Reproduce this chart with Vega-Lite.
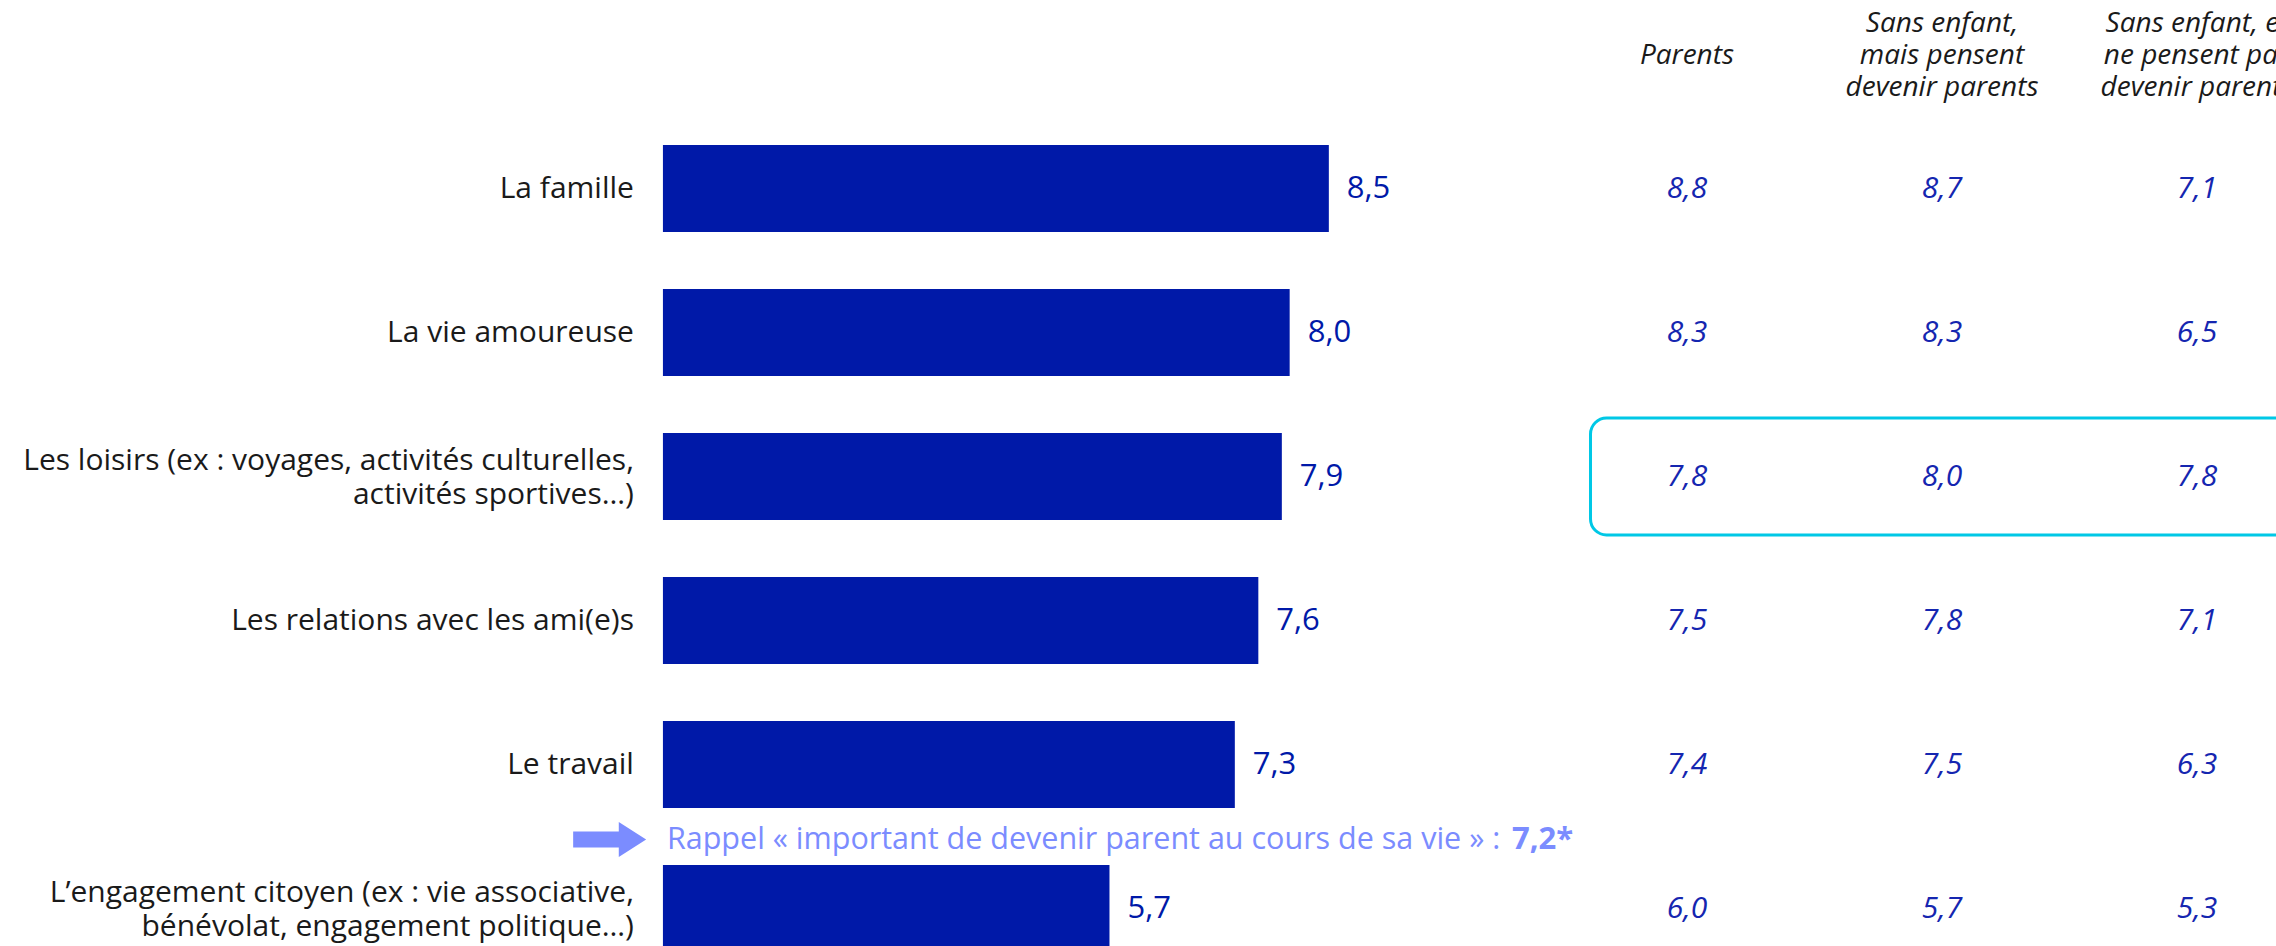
{
  "$schema": "https://vega.github.io/schema/vega-lite/v6.json",
  "width": 2276,
  "height": 946,
  "autosize": {"type": "fit", "contains": "padding"},
  "padding": 0,
  "background": "white",
  "config": {
    "view": {"stroke": null},
    "font": "Open Sans",
    "locale": {"number": {"decimal": ",", "thousands": " ", "grouping": [3], "currency": ["", " €"]}}
  },
  "datasets": {
    "items": [
      {"item": "famille", "label": "La famille", "total": 8.5},
      {"item": "amour", "label": "La vie amoureuse", "total": 8.0},
      {"item": "loisirs", "label": "Les loisirs (ex : voyages, activités culturelles,\nactivités sportives…)", "total": 7.9},
      {"item": "amis", "label": "Les relations avec les ami(e)s", "total": 7.6},
      {"item": "travail", "label": "Le travail", "total": 7.3},
      {"item": "engagement", "label": "L’engagement citoyen (ex : vie associative,\nbénévolat, engagement politique…)", "total": 5.7}
    ],
    "table": [
      {"item": "famille", "group": "Parents", "value": 8.8},
      {"item": "famille", "group": "Sans enfant, mais pensent devenir parents", "value": 8.7},
      {"item": "famille", "group": "Sans enfant, et ne pensent pas devenir parents", "value": 7.1},
      {"item": "amour", "group": "Parents", "value": 8.3},
      {"item": "amour", "group": "Sans enfant, mais pensent devenir parents", "value": 8.3},
      {"item": "amour", "group": "Sans enfant, et ne pensent pas devenir parents", "value": 6.5},
      {"item": "loisirs", "group": "Parents", "value": 7.8},
      {"item": "loisirs", "group": "Sans enfant, mais pensent devenir parents", "value": 8.0},
      {"item": "loisirs", "group": "Sans enfant, et ne pensent pas devenir parents", "value": 7.8},
      {"item": "amis", "group": "Parents", "value": 7.5},
      {"item": "amis", "group": "Sans enfant, mais pensent devenir parents", "value": 7.8},
      {"item": "amis", "group": "Sans enfant, et ne pensent pas devenir parents", "value": 7.1},
      {"item": "travail", "group": "Parents", "value": 7.4},
      {"item": "travail", "group": "Sans enfant, mais pensent devenir parents", "value": 7.5},
      {"item": "travail", "group": "Sans enfant, et ne pensent pas devenir parents", "value": 6.3},
      {"item": "engagement", "group": "Parents", "value": 6.0},
      {"item": "engagement", "group": "Sans enfant, mais pensent devenir parents", "value": 5.7},
      {"item": "engagement", "group": "Sans enfant, et ne pensent pas devenir parents", "value": 5.3}
    ],
    "headers": [
      {"group": "Parents", "header": "\nParents\n"},
      {"group": "Sans enfant, mais pensent devenir parents", "header": "Sans enfant,\nmais pensent\ndevenir parents"},
      {"group": "Sans enfant, et ne pensent pas devenir parents", "header": "Sans enfant, et\nne pensent pas\ndevenir parents"}
    ]
  },
  "resolve": {"scale": {"x": "independent"}},
  "layer": [
    {
      "layer": [
        {
          "data": {"name": "items"},
          "mark": {"type": "bar", "color": "#0019A8", "clip": true},
          "encoding": {
            "x": {"field": "total", "type": "quantitative", "axis": null, "scale": {"domain": [-8.462, 20.59], "nice": false, "zero": false}},
            "y": {"field": "item", "type": "nominal", "axis": null, "sort": null,
                  "scale": {"type": "band", "domain": ["header", "famille", "amour", "loisirs", "amis", "travail", "engagement"], "range": [-27.5, 980.5], "paddingInner": 0.396, "paddingOuter": 0.198}}
          }
        },
        {
          "data": {"name": "items"},
          "transform": [{"filter": "indexof(datum.label, '\\n') < 0"}],
          "mark": {"type": "text", "align": "right", "baseline": "middle", "dx": -29, "fontSize": 30, "color": "#1a1a1a"},
          "encoding": {
            "x": {"datum": 0, "type": "quantitative"},
            "y": {"field": "item", "type": "nominal"},
            "text": {"field": "label"}
          }
        },
        {
          "data": {"name": "items"},
          "transform": [{"filter": "indexof(datum.label, '\\n') >= 0"}],
          "mark": {"type": "text", "align": "right", "baseline": "middle", "dx": -29, "dy": -16, "fontSize": 30, "color": "#1a1a1a", "lineBreak": "\n", "lineHeight": 34},
          "encoding": {
            "x": {"datum": 0, "type": "quantitative"},
            "y": {"field": "item", "type": "nominal"},
            "text": {"field": "label"}
          }
        },
        {
          "data": {"name": "items"},
          "mark": {"type": "text", "align": "left", "baseline": "middle", "dx": 18, "fontSize": 31, "color": "#0019A8"},
          "encoding": {
            "x": {"field": "total", "type": "quantitative"},
            "y": {"field": "item", "type": "nominal"},
            "text": {"field": "total", "type": "quantitative", "format": ".1f"}
          }
        },
        {
          "data": {"values": [{}]},
          "mark": {"type": "bar", "fill": null, "fillOpacity": 0, "stroke": "#00C8E6", "strokeWidth": 3, "cornerRadius": 16, "height": 117, "clip": true},
          "encoding": {
            "x": {"datum": 11.84, "type": "quantitative"},
            "x2": {"datum": 21},
            "y": {"datum": "loisirs", "type": "nominal"}
          }
        },
        {
          "data": {"values": [{"text": "Rappel « important de devenir parent au cours de sa vie » : ", "bold": "7,2*"}]},
          "mark": {"type": "text", "align": "left", "baseline": "middle", "dx": 4, "dy": 75, "fontSize": 30.5, "color": "#7B8CFF"},
          "encoding": {
            "x": {"datum": 0, "type": "quantitative"},
            "y": {"datum": "travail", "type": "nominal"},
            "text": {"field": "text"}
          }
        },
        {
          "data": {"values": [{"text": "Rappel « important de devenir parent au cours de sa vie » : ", "bold": "7,2*"}]},
          "mark": {"type": "text", "align": "left", "baseline": "middle", "dx": 849, "dy": 75, "fontSize": 31, "fontWeight": "bold", "color": "#7B8CFF"},
          "encoding": {
            "x": {"datum": 0, "type": "quantitative"},
            "y": {"datum": "travail", "type": "nominal"},
            "text": {"field": "bold"}
          }
        },
        {
          "data": {"values": [{}]},
          "mark": {"type": "point", "filled": true, "color": "#7B8CFF", "opacity": 1, "size": 5329, "yOffset": 75,
                   "shape": "M-1,-0.22L0.25,-0.22L0.25,-0.48L1,0L0.25,0.48L0.25,0.22L-1,0.22Z"},
          "encoding": {
            "x": {"datum": -0.68, "type": "quantitative"},
            "y": {"datum": "travail", "type": "nominal"}
          }
        }
      ]
    },
    {
      "layer": [
        {
          "data": {"name": "headers"},
          "mark": {"type": "text", "align": "center", "baseline": "middle", "dy": -21, "fontSize": 28, "fontStyle": "italic", "color": "#1a1a1a", "lineBreak": "\n", "lineHeight": 32, "clip": true},
          "encoding": {
            "x": {"field": "group", "type": "nominal", "axis": null, "sort": null,
                  "scale": {"type": "point", "padding": 0, "domain": ["Parents", "Sans enfant, mais pensent devenir parents", "Sans enfant, et ne pensent pas devenir parents"], "range": [1687, 2197]}},
            "y": {"datum": "header", "type": "nominal"},
            "text": {"field": "header"}
          }
        },
        {
          "data": {"name": "table"},
          "mark": {"type": "text", "align": "center", "baseline": "middle", "fontSize": 30, "fontStyle": "italic", "color": "#1526B0", "clip": true},
          "encoding": {
            "x": {"field": "group", "type": "nominal", "axis": null, "sort": null,
                  "scale": {"type": "point", "padding": 0, "domain": ["Parents", "Sans enfant, mais pensent devenir parents", "Sans enfant, et ne pensent pas devenir parents"], "range": [1687, 2197]}},
            "y": {"field": "item", "type": "nominal"},
            "text": {"field": "value", "type": "quantitative", "format": ".1f"}
          }
        }
      ]
    }
  ]
}
